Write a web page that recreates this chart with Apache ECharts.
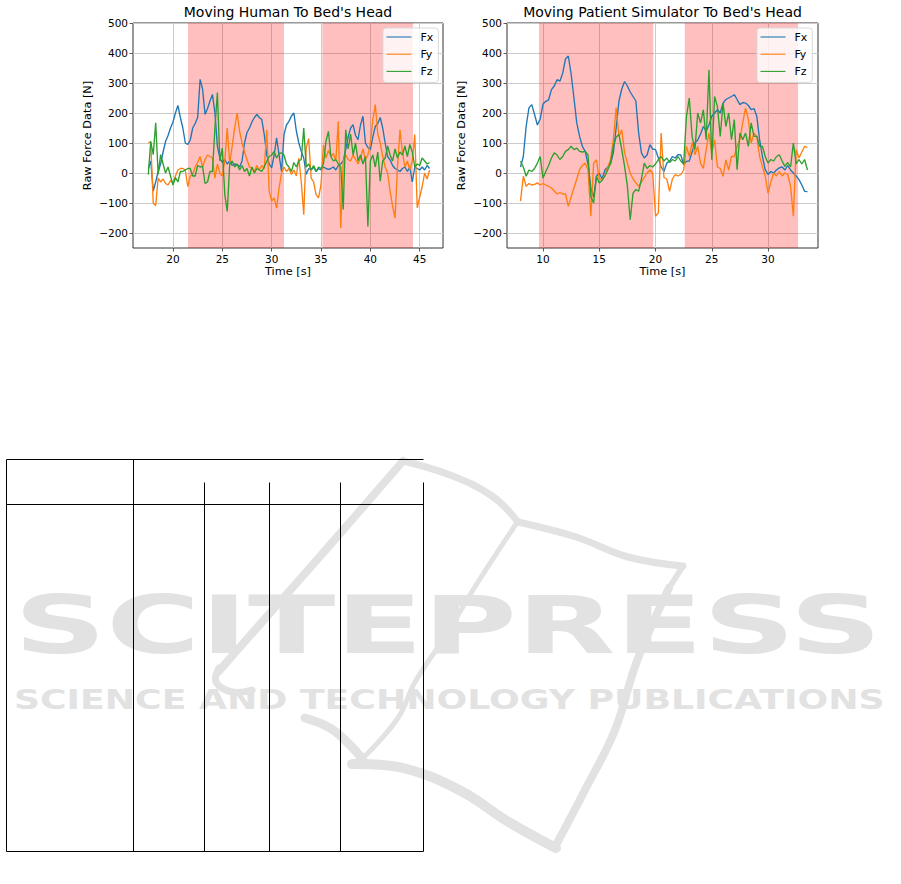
<!DOCTYPE html>
<html><head><meta charset="utf-8">
<script src="https://cdn.jsdelivr.net/npm/echarts@6/dist/echarts.min.js"></script>
<style>html,body{margin:0;padding:0;background:#fff}#c{width:901px;height:884px}</style>
</head><body><div id="c"></div><script>
// ---------- data ----------
const leftTime = [17.5,17.75,
18,18.25,18.5,18.75, 19,19.25,19.5,19.75, 20,20.25,20.5,20.75, 21,21.25,21.5,21.75,
22,22.25,22.5,22.75, 23,23.25,23.5,23.75, 24,24.25,24.5,24.75, 25,25.25,25.5,25.75,
26,26.25,26.5,26.75, 27,27.25,27.5,27.75, 28,28.25,28.5,28.75, 29,29.25,29.5,29.75,
30,30.25,30.5,30.75, 31,31.25,31.5,31.75, 32,32.25,32.5,32.75, 33,33.25,33.5,33.75,
34,34.25,34.5,34.75, 35,35.25,35.5,35.75, 36,36.25,36.5,36.75, 37,37.25,37.5,37.75,
38,38.25,38.5,38.75, 39,39.25,39.5,39.75, 40,40.25,40.5,40.75, 41,41.25,41.5,41.75,
42,42.25,42.5,42.75, 43,43.25,43.5,43.75, 44,44.25,44.5,44.75, 45,45.25,45.5,45.75,
46];
const leftFx = [15,40,
-60,-30,5,30, 70,105,125,150, 170,200,225,185, 150,100,95,110,
150,165,185,312, 280,195,215,240, 262,200,90,50, 35,45,30,40,
25,30,28,20, 40,100,135,150, 170,185,195,185, 178,128,60,30,
17,60,117,60, 5,128,160,172, 190,200,140,100, 72,50,-5,15,
10,20,5,15, 10,20,15,12, 15,20,10,25, 30,40,78,120,
150,161,125,111, 160,189,100,85, 78,120,155,165, 185,150,100,55,
44,25,15,10, 5,15,20,5, 20,-30,20,15, 10,20,10,25,
15];
const leftFy = [100,105,
-100,-108,-17,-30, -20,-35,-40,-25, -33,-10,10,15, 15,10,-45,-10,
-5,20,35,55, 20,45,60,55, 50,-17,30,0, -10,40,150,30,
90,150,200,140, 100,70,45,20, 15,5,25,10, 25,15,144,-61,
-94,-83,-117,-50, 0,20,5,15, -5,10,-10,50, -30,-139,83,115,
-17,-30,-72,-83, -40,94,50,75, 55,65,40,172, -183,40,60,45,
40,60,45,30, 50,80,45,60, 100,178,228,130, 100,55,20,0,
-60,-110,-150,20, 144,70,20,40, 10,40,128,-116, -80,-45,0,-20,
10];
const leftFz = [-5,105,
61,167,-5,61, 30,0,20,-10, -40,-15,-30,5, 5,10,15,15,
-10,-10,25,20, 22,-35,-30,5, 5,150,268,40, 83,-72,-128,30,
40,20,30,10, 25,5,15,-10, 20,0,15,10, 5,20,39,55,
60,72,50,65, 67,60,30,20, 5,35,20,40, 45,150,20,30,
10,25,5,20, 15,30,105,139, 55,40,45,30, 20,-122,144,80,
130,60,100,40, 60,30,55,-178, 40,60,20,70, -27,40,50,90,
60,40,80,50, 70,60,90,55, 95,70,20,30, 25,50,40,30,
35];

const rightTime = [
8,8.25,8.5,8.75, 9,9.25,9.5,9.75, 10,10.25,10.5,10.75, 11,11.25,11.5,11.75,
12,12.25,12.5,12.75, 13,13.25,13.5,13.75, 14,14.25,14.5,14.75, 15,15.25,15.5,15.75,
16,16.25,16.5,16.75, 17,17.25,17.5,17.75, 18,18.25,18.5,18.75, 19,19.25,19.5,19.75,
20,20.25,20.5,20.75, 21,21.25,21.5,21.75, 22,22.25,22.5,22.75, 23,23.25,23.5,23.75,
24,24.25,24.5,24.75, 25,25.25,25.5,25.75, 26,26.25,26.5,26.75, 27,27.25,27.5,27.75,
28,28.25,28.5,28.75, 29,29.25,29.5,29.75, 30,30.25,30.5,30.75, 31,31.25,31.5,31.75,
32,32.25,32.5,32.75, 33,33.25,33.5];
const rightFx = [
20,55,155,217, 228,195,160,180, 230,239,244,278, 290,311,306,333,
380,390,330,250, 167,122,89,72, 30,-50,-80,-10, 0,-20,10,20,
30,67,150,240, 280,305,290,270, 255,240,133,67, 50,60,94,80,
78,50,20,5, 33,40,55,50, 61,60,28,39, 40,70,100,110,
130,155,140,160, 189,200,211,200, 233,245,250,255, 261,245,228,235,
233,225,211,215, 189,111,55,11, -5,5,0,10, 17,20,10,25,
10,0,-10,-22, -40,-61,-62];
const rightFy = [
-94,-11,-44,-35, -40,-38,-33,-40, -35,-40,-45,-50, -60,-70,-65,-70,
-70,-111,-80,-50, -20,11,25,33, 10,-144,33,44, -20,-22,-10,20,
44,111,217,122, 144,67,33,0, -20,-33,-44,-30, -15,0,10,0,
-144,-133,133,-15, -20,-61,-20,-5, -10,-5,10,89, 55,100,61,89,
33,15,78,133, 67,111,20,15, -11,44,10,55, 55,89,111,167,
217,178,100,133, 122,55,22,-10, -67,-30,0,-10, 5,-10,0,-5,
-44,-144,78,50, 70,89,85];
const rightFz = [
39,20,-11,10, 5,15,33,55, -17,5,25,50, 67,60,45,55,
72,78,89,78, 83,72,70,72, 60,-78,-100,-11, -33,-25,-10,10,
33,89,120,128, 78,22,-44,-156, -67,-55,-61,-20, 33,15,25,20,
30,45,55,40, 50,35,45,40, 55,40,30,189, 250,122,78,200,
167,211,111,344, 44,255,222,122, 233,155,200,111, 178,11,133,111,
133,89,167,122, 122,89,89,55, 33,45,40,55, 61,40,22,35,
20,100,30,45, 30,45,10];

const leftSpans = [[21.52, 31.25], [35.14, 44.32]];
const rightSpans = [[9.64, 19.8], [22.6, 32.67]];
const leftXTicks = [20, 25, 30, 35, 40, 45];
const rightXTicks = [10, 15, 20, 25, 30];
const yTicks = [-200, -100, 0, 100, 200, 300, 400, 500];
const seriesNames = ['Fx', 'Fy', 'Fz'];
const seriesColors = ['#1f77b4', '#ff7f0e', '#2ca02c'];
const chartTitles = ["Moving Human To Bed's Head", "Moving Patient Simulator To Bed's Head"];
const xName = 'Time [s]';
const yName = 'Raw Force Data [N]';
const watermarkTitle = 'SCITEPRESS';
const watermarkSub = 'SCIENCE AND TECHNOLOGY PUBLICATIONS';

// ---------- layout ----------
const FONT = 'DejaVu Sans';
const grids = [
  {left: 133, top: 23, width: 310, height: 225},
  {left: 507, top: 23, width: 311, height: 225}
];
const xRanges = [[15.95, 47.36], [6.8, 34.44]];
const measureCtx = document.createElement('canvas').getContext('2d');
function measure(text, size, weight) {
  measureCtx.font = (weight || 'normal') + ' ' + size + 'px "' + FONT + '"';
  return measureCtx.measureText(text).width;
}
const fmt = v => (v < 0 ? '\u2212' + Math.abs(v) : String(v));
const tickStyle = {fontFamily: FONT, fontSize: 10.5, color: '#000'};
const nameStyle = {fontFamily: FONT, fontSize: 11.3, color: '#000'};

function xAxisCfg(gi, ticks) {
  return {
    type: 'value', gridIndex: gi, min: xRanges[gi][0], max: xRanges[gi][1],
    name: xName, nameLocation: 'middle', nameGap: 18, nameTextStyle: nameStyle,
    axisLine: {show: false, onZero: false},
    axisTick: {show: true, length: 3.5, lineStyle: {color: '#333', width: 0.8}, customValues: ticks},
    axisLabel: Object.assign({customValues: ticks, margin: 5, formatter: fmt}, tickStyle),
    splitLine: {show: true, lineStyle: {color: '#cbcbcb', width: 1}}
  };
}
function yAxisCfg(gi) {
  return {
    type: 'value', gridIndex: gi, min: -250, max: 500,
    name: yName, nameLocation: 'middle', nameGap: 40, nameRotate: 90, nameTextStyle: nameStyle,
    axisLine: {show: false, onZero: false},
    axisTick: {show: true, length: 3.5, lineStyle: {color: '#333', width: 0.8}, customValues: yTicks},
    axisLabel: Object.assign({customValues: yTicks, margin: 5, formatter: fmt}, tickStyle),
    splitLine: {show: true, lineStyle: {color: '#cbcbcb', width: 1}}
  };
}
const pair = (time, vals) => time.map((t, i) => [t, vals[i]]);
const chartData = [
  {time: leftTime, vals: [leftFx, leftFy, leftFz], spans: leftSpans},
  {time: rightTime, vals: [rightFx, rightFy, rightFz], spans: rightSpans}
];
const series = [];
chartData.forEach((cd, gi) => {
  cd.vals.forEach((v, k) => {
    const s = {
      type: 'line', name: seriesNames[k], xAxisIndex: gi, yAxisIndex: gi,
      data: pair(cd.time, v), symbol: 'none', showSymbol: false,
      lineStyle: {width: 1.35, color: seriesColors[k]}, itemStyle: {color: seriesColors[k]},
      z: 2 + k, animation: false, silent: true
    };
    if (k === 0) {
      s.markArea = {silent: true, z: 1, itemStyle: {color: 'rgba(255,0,0,0.25)'},
        data: cd.spans.map(sp => [{xAxis: sp[0]}, {xAxis: sp[1]}])};
    }
    series.push(s);
  });
});

const titles = chartTitles.map((t, gi) => {
  const cx = grids[gi].left + grids[gi].width / 2;
  const w = measure(t, 14);
  return {text: t, left: cx - w / 2, top: 5, padding: 0,
    textStyle: {fontFamily: FONT, fontSize: 14, fontWeight: 'normal', color: '#000'}};
});
const legends = [0, 1].map(gi => ({
  left: gi ? 757 : 383, top: 28, orient: 'vertical',
  data: seriesNames.map(n => ({name: n, icon: 'path://M0,0H25V1.1H0Z'})),
  itemWidth: 25, itemHeight: 14, itemGap: 3.2, padding: [2, 5, 4, 3.5],
  backgroundColor: 'rgba(255,255,255,0.8)', borderColor: '#d9d9d9', borderWidth: 1, borderRadius: 3,
  selectedMode: false,
  textStyle: {fontFamily: FONT, fontSize: 11, lineHeight: 14, color: '#000', padding: [0, 0, 0, 4]}
}));

// ---------- table and watermark (page decoration) ----------
const WM = '#e2e2e2';
const g = [];
function stroke(points, w, color) {
  g.push({type: 'polyline', silent: true, z: 0, shape: {points: points, smooth: 0.4},
    style: {stroke: color || WM, lineWidth: w, fill: null, lineCap: 'round', lineJoin: 'round'}});
}
stroke([[403,461],[330,545],[262,622],[219,671]], 8);
stroke([[219,668],[216,682],[232,692],[252,690]], 7);
stroke([[403,461],[450,475],[492,496],[518,522]], 7);
stroke([[518,522],[576,537],[628,557],[683,566]], 7);
stroke([[683,566],[669,588]], 6);
stroke([[516,524],[478,582],[444,638],[415,682],[398,718],[363,758]], 5);
stroke([[669,588],[637,661],[615,730],[585,790],[556,845]], 8);
stroke([[305,718],[330,728],[350,745],[363,760]], 9);
stroke([[352,764],[403,768],[461,791],[507,821],[556,848]], 10);
const wmTitleSize = 80, wmSubSize = 27;
const wmTitleScale = 868 / measure(watermarkTitle, wmTitleSize, 'bold');
const wmSubScale = 871 / measure(watermarkSub, wmSubSize, 'bold');
g.push({type: 'text', silent: true, z: 1, x: 14, y: 625, scaleX: wmTitleScale, scaleY: 1,
  style: {text: watermarkTitle, x: 0, y: 0, fill: WM, font: 'bold ' + wmTitleSize + 'px "' + FONT + '"',
    textAlign: 'left', textVerticalAlign: 'middle'}});
g.push({type: 'text', silent: true, z: 1, x: 14, y: 700, scaleX: wmSubScale, scaleY: 1,
  style: {text: watermarkSub, x: 0, y: 0, fill: WM, font: 'bold ' + wmSubSize + 'px "' + FONT + '"',
    textAlign: 'left', textVerticalAlign: 'middle'}});
function rule(x1, y1, x2, y2) {
  g.push({type: 'line', silent: true, z: 5, shape: {x1, y1, x2, y2},
    style: {stroke: '#000', lineWidth: 1}});
}
rule(6.5, 459.5, 423.5, 459.5);
rule(6.5, 504.5, 423.5, 504.5);
rule(6.5, 851.5, 423.5, 851.5);
rule(6.5, 459.5, 6.5, 851.5);
rule(133.5, 459.5, 133.5, 851.5);
[204.5, 269.5, 340.5, 423.5].forEach(x => rule(x, 482.5, x, 851.5));

const option = {
  animation: false,
  backgroundColor: '#fff',
  textStyle: {fontFamily: FONT},
  title: titles,
  legend: legends,
  grid: grids.map(gr => Object.assign({show: true, borderColor: '#333', borderWidth: 1, backgroundColor: 'transparent'}, gr)),
  xAxis: [xAxisCfg(0, leftXTicks), xAxisCfg(1, rightXTicks)],
  yAxis: [yAxisCfg(0), yAxisCfg(1)],
  series: series,
  graphic: {elements: g}
};
const chart = echarts.init(document.getElementById('c'), null, {renderer: 'svg', width: 901, height: 884});
chart.setOption(option);
</script></body></html>
